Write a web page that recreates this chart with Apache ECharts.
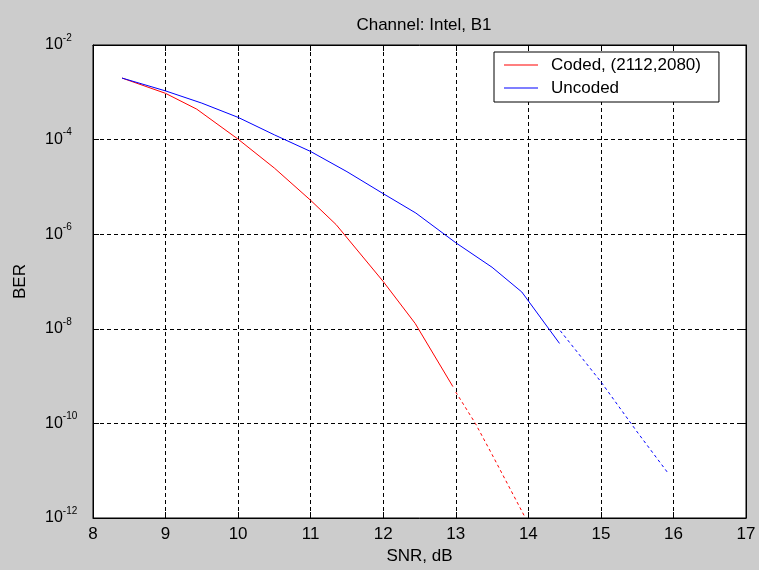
<!DOCTYPE html>
<html>
<head>
<meta charset="utf-8">
<title>Channel: Intel, B1</title>
<script src="https://cdn.jsdelivr.net/npm/echarts@6/dist/echarts.min.js"></script>
<style>
  html, body { margin: 0; padding: 0; background: #cccccc; }
  #chart { width: 759px; height: 570px; }
</style>
</head>
<body>
<div id="chart"></div>
<script>
// data (SNR in dB, BER)
var codedSnr = [8.4, 9.0, 9.43, 10.0, 10.5, 11.0, 11.35, 12.0, 12.44, 12.96];
var codedBer = [2.0e-3, 9.5e-4, 4.4e-4, 1.02e-4, 2.5e-5, 5.2e-6, 1.6e-6, 1.0e-7, 1.3e-8, 6.0e-10];
// dashed extension of the coded curve
var codedExtSnr = [13.0, 13.27, 13.5, 13.96];
var codedExtBer = [4.6e-10, 1.0e-10, 2.2e-11, 1.0e-12];

var uncodedSnr = [8.4, 9.0, 9.5, 10.0, 10.5, 11.0, 11.5, 12.0, 12.45, 13.0, 13.5, 13.91, 14.43];
var uncodedBer = [2.0e-3, 1.07e-3, 5.9e-4, 2.95e-4, 1.26e-4, 5.6e-5, 2.1e-5, 7.2e-6, 2.8e-6, 6.6e-7, 2.0e-7, 6.0e-8, 4.9e-9];
// dashed extension of the uncoded curve
var uncodedExtSnr = [14.44, 15.0, 15.5, 15.93];
var uncodedExtBer = [9.1e-9, 7.6e-10, 6.6e-11, 8.7e-12];

var xTicks = [8, 9, 10, 11, 12, 13, 14, 15, 16, 17];
var yExps = [-12, -10, -8, -6, -4, -2];

var seriesNames = ['Coded, (2112,2080)', 'Uncoded'];

function pairs(xs, ys) {
  var out = [];
  for (var i = 0; i < xs.length; i++) {
    out.push([xs[i], ys[i]]);
  }
  return out;
}

var font = "'Liberation Sans', Arial, sans-serif";
var gridLine = { show: true, lineStyle: { color: '#000', width: 1, type: [4, 3] } };
var tick = { show: true, inside: true, length: 6, lineStyle: { color: '#000' } };

var myChart = echarts.init(document.getElementById('chart'));
var option = {
  backgroundColor: '#cccccc',
  animation: false,
  textStyle: { fontFamily: font, color: '#000' },
  title: {
    text: 'Channel: Intel, B1',
    left: 419,
    top: 12,
    textAlign: 'center',
    textStyle: { fontFamily: font, fontSize: 17, fontWeight: 'normal', color: '#000' }
  },
  legend: {
    data: seriesNames,
    orient: 'vertical',
    left: 494,
    top: 52,
    padding: [4, 18, 5, 10],
    itemWidth: 34,
    itemHeight: 18,
    itemGap: 5,
    icon: 'path://M0,0H34V1.2H0Z',
    backgroundColor: '#fff',
    borderColor: '#000',
    borderWidth: 1,
    borderRadius: 0,
    selectedMode: false,
    textStyle: { fontFamily: font, fontSize: 17, color: '#000', padding: [0, 0, 0, 8], lineHeight: 18 }
  },
  grid: {
    left: 93,
    top: 45,
    right: 13,
    bottom: 52,
    show: true,
    backgroundColor: '#fff',
    borderColor: '#000',
    borderWidth: 1
  },
  xAxis: [{
    type: 'value',
    min: xTicks[0],
    max: xTicks[xTicks.length - 1],
    interval: 1,
    name: 'SNR, dB',
    nameLocation: 'middle',
    nameGap: 30,
    nameTextStyle: { fontFamily: font, fontSize: 17, color: '#000' },
    axisLine: { show: true, lineStyle: { color: '#000' } },
    axisTick: tick,
    axisLabel: { margin: 8, fontFamily: font, fontSize: 17, color: '#000' },
    splitLine: gridLine
  }, {
    type: 'value',
    position: 'top',
    min: xTicks[0],
    max: xTicks[xTicks.length - 1],
    interval: 1,
    axisLine: { show: true, lineStyle: { color: '#000' } },
    axisTick: tick,
    axisLabel: { show: false },
    splitLine: { show: false }
  }],
  yAxis: [{
    type: 'log',
    logBase: 10,
    min: Math.pow(10, yExps[0]),
    max: Math.pow(10, yExps[yExps.length - 1]),
    interval: 2,
    name: 'BER',
    nameLocation: 'middle',
    nameGap: 64,
    nameTextStyle: { fontFamily: font, fontSize: 17, color: '#000' },
    axisLine: { show: true, lineStyle: { color: '#000' } },
    axisTick: tick,
    axisLabel: {
      align: 'left',
      margin: 48,
      formatter: function (v) {
        var e = Math.round(Math.log10(v));
        if (yExps.indexOf(e) < 0) return '';
        return '{b|10}{s|' + e + '}';
      },
      rich: {
        b: { fontFamily: font, fontSize: 16, lineHeight: 16, verticalAlign: 'middle', color: '#000' },
        s: { fontFamily: font, fontSize: 10, lineHeight: 10, verticalAlign: 'middle', padding: [0, 0, 14, 0], color: '#000' }
      }
    },
    splitLine: gridLine
  }, {
    type: 'log',
    logBase: 10,
    position: 'right',
    min: Math.pow(10, yExps[0]),
    max: Math.pow(10, yExps[yExps.length - 1]),
    interval: 2,
    axisLine: { show: true, lineStyle: { color: '#000' } },
    axisTick: tick,
    axisLabel: { show: false },
    splitLine: { show: false }
  }],
  series: [{
    name: seriesNames[0],
    type: 'line',
    data: pairs(codedSnr, codedBer),
    symbol: 'none',
    color: '#ff0000',
    lineStyle: { color: '#ff0000', width: 1 },
    z: 3
  }, {
    name: 'coded-ext',
    type: 'line',
    data: pairs(codedExtSnr, codedExtBer),
    symbol: 'none',
    color: '#ff0000',
    lineStyle: { color: '#ff0000', width: 1, type: [3, 3] },
    z: 3
  }, {
    name: seriesNames[1],
    type: 'line',
    data: pairs(uncodedSnr, uncodedBer),
    symbol: 'none',
    color: '#0000ff',
    lineStyle: { color: '#0000ff', width: 1 },
    z: 3
  }, {
    name: 'uncoded-ext',
    type: 'line',
    data: pairs(uncodedExtSnr, uncodedExtBer),
    symbol: 'none',
    color: '#0000ff',
    lineStyle: { color: '#0000ff', width: 1, type: [3, 3] },
    z: 3
  }]
};

myChart.setOption(option);
</script>
</body>
</html>
